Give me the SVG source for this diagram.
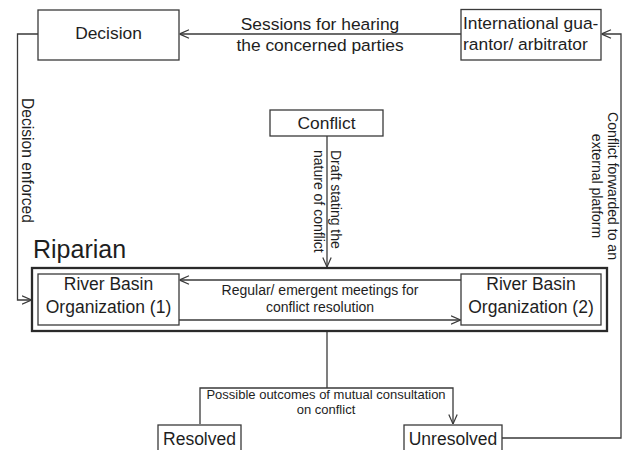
<svg xmlns="http://www.w3.org/2000/svg" width="625" height="450" viewBox="0 0 625 450">
<style>
.box{fill:#fff;stroke:#3a3a3a;stroke-width:1.3}
.outer{fill:none;stroke:#2a2a2a;stroke-width:2.3}
.ln{fill:none;stroke:#3a3a3a;stroke-width:1.3}
.arr{marker-end:url(#ah)}
text{font-family:"Liberation Sans",Arial,sans-serif;fill:#1e1e1e}
.t17{font-size:17.4px}
.t14{font-size:14px}
.mid{text-anchor:middle}
</style>
<defs>
<marker id="ah" viewBox="0 0 10 10" refX="10" refY="5" markerWidth="10" markerHeight="10" markerUnits="userSpaceOnUse" orient="auto">
<path d="M0.5,0.8 L10,5 L0.5,9.2" fill="none" stroke="#3a3a3a" stroke-width="1.2"/>
</marker>
</defs>
<rect width="625" height="450" fill="#fff"/>
<g id="connectors">
<path class="ln arr" d="M461,34 L179.5,34"/>
<path class="ln arr" d="M38,34 L17.5,34 L17.5,300 L31.5,300"/>
<path class="ln arr" d="M502,438 L621,438 L621,34 L601.5,34"/>
<path class="ln arr" d="M327,136 L327,267"/>
<path class="ln arr" d="M461,280 L179.5,280"/>
<path class="ln arr" d="M179,320 L460.5,320"/>
<path class="ln" d="M327,331 L327,388"/>
<path class="ln arr" d="M200,424 L200,388 L453,388 L453,424"/>
<text class="t17 mid" x="320" y="30">Sessions for hearing</text>
<text class="t17 mid" x="320" y="51">the concerned parties</text>
<g transform="translate(21.5,160.5) rotate(90)"><text class="mid" style="font-size:15.6px" x="0" y="0">Decision enforced</text></g>
<g transform="translate(330.5,150) rotate(90)"><text class="t14" x="0" y="0">Draft stating the</text><text class="t14" x="0" y="16.5">nature of conflict</text></g>
<g transform="translate(607.5,186) rotate(90)"><text class="t14 mid" x="0" y="0">Conflict forwarded to an</text><text class="t14 mid" x="0" y="16">external platform</text></g>
<text class="t14 mid" x="320" y="295">Regular/ emergent meetings for</text>
<text class="t14 mid" x="320" y="312">conflict resolution</text>
<text class="mid" style="font-size:13px" x="326" y="399">Possible outcomes of mutual consultation</text>
<text class="mid" style="font-size:13px" x="326" y="414">on conflict</text>
</g>
<g id="decision"><rect class="box" x="38" y="10" width="141" height="50"/><text class="t17 mid" x="108.5" y="39">Decision</text></g>
<g id="arbitrator"><rect class="box" x="461" y="9.5" width="140" height="50.5"/><text class="t17" x="463" y="29">International gua-</text><text class="t17" x="463" y="50">rantor/ arbitrator</text></g>
<g id="conflict"><rect class="box" x="270" y="110" width="113" height="26"/><text class="t17 mid" x="326.5" y="129">Conflict</text></g>
<g id="riparian"><rect class="outer" x="32" y="268" width="575" height="63"/><text style="font-size:25px" x="33" y="258">Riparian</text></g>
<g id="rbo1"><rect class="box" x="38" y="274" width="141" height="51"/><text class="mid" style="font-size:17.5px" x="108.5" y="290">River Basin</text><text class="mid" style="font-size:17.5px" x="108.5" y="313">Organization (1)</text></g>
<g id="rbo2"><rect class="box" x="461" y="274" width="140" height="51"/><text class="mid" style="font-size:17.5px" x="531" y="290">River Basin</text><text class="mid" style="font-size:17.5px" x="531" y="313">Organization (2)</text></g>
<g id="resolved"><rect class="box" x="158" y="425" width="83" height="40"/><text class="mid" style="font-size:17.5px" x="199.5" y="445">Resolved</text></g>
<g id="unresolved"><rect class="box" x="404" y="425" width="98" height="40"/><text class="mid" style="font-size:17.5px" x="453" y="445">Unresolved</text></g>
</svg>
